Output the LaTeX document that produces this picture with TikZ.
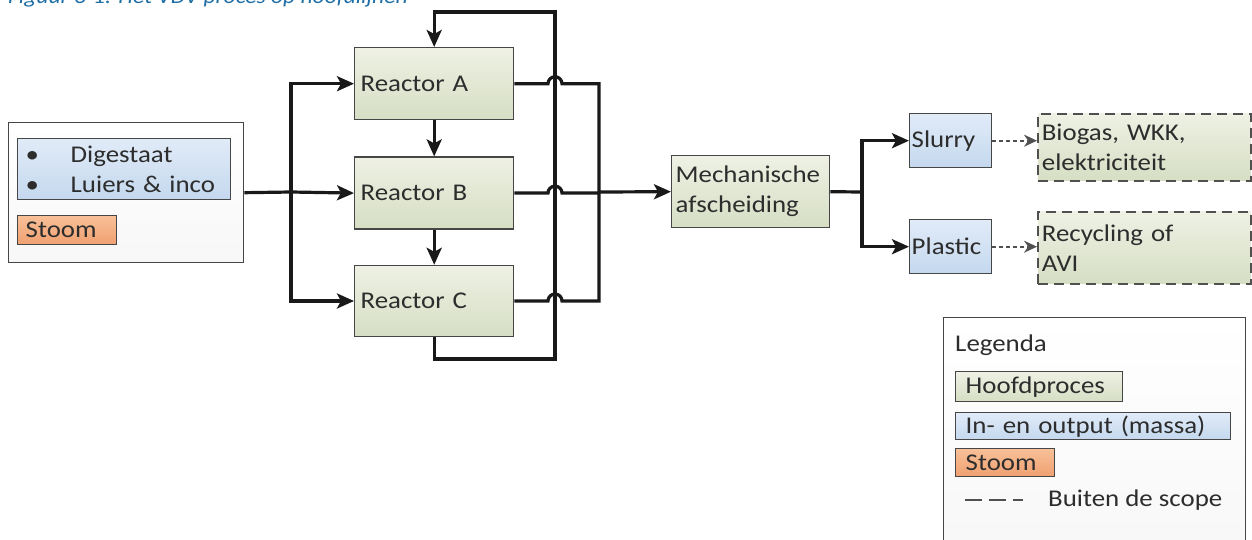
\documentclass[tikz,border=0pt]{standalone}
\usepackage{fontspec}
\setmainfont{Carlito}[FakeStretch=1.12]
\usepackage{xcolor}
\usetikzlibrary{positioning, arrows.meta}

\definecolor{groenL}{RGB}{238,241,228}
\definecolor{groenD}{RGB}{214,222,196}
\definecolor{blauwL}{RGB}{225,235,248}
\definecolor{blauwD}{RGB}{196,216,238}
\definecolor{oranjeL}{RGB}{248,192,152}
\definecolor{oranjeD}{RGB}{240,160,112}
\definecolor{rand}{RGB}{70,70,70}
\definecolor{stipgrijs}{RGB}{80,80,80}
\definecolor{tekstgrijs}{RGB}{45,45,45}
\definecolor{kopblauw}{RGB}{30,110,165}
\newcommand{\tekst}{\fontsize{24}{30}\selectfont}

\begin{document}
\begin{tikzpicture}[
    x=1pt, y=-1pt,
    tegel/.style={draw=rand, line width=1.4pt, anchor=north west, align=left, font=\tekst, text=tekstgrijs, inner ysep=0pt},
    hoofd/.style={tegel, top color=groenL, bottom color=groenD},
    massa/.style={tegel, top color=blauwL, bottom color=blauwD},
    stoom/.style={tegel, top color=oranjeL, bottom color=oranjeD},
    buiten/.style={hoofd, draw=stipgrijs, dash pattern=on 10pt off 6pt, line width=1.7pt},
    kader/.style={draw=rand, line width=1.4pt, anchor=north west, top color=white, bottom color=gray!6},
    lijn/.style={line width=3.2pt, draw=black!90},
    pijl/.style={lijn, -{Stealth[length=17pt, width=15pt, inset=4pt]}},
    stippijl/.style={line width=1.7pt, draw=stipgrijs, dash pattern=on 4pt off 3pt, -{Stealth[length=13pt, width=12pt]}},
    tekstnode/.style={anchor=west, inner sep=0pt, font=\tekst, text=tekstgrijs}
]
\path[use as bounding box] (0,0) rectangle (1252,540);
\clip (0,0) rectangle (1252,540);

% bijschrift, bovenkant valt buiten de uitsnede
\node[anchor=base west, inner sep=0pt, font=\fontsize{21}{24}\selectfont\itshape, text=kopblauw] (bijschrift) at (8,4) {Figuur 3-1: Het VDV proces op hoofdlijnen};

% invoer
\node[kader, minimum width=235pt, minimum height=140pt] (invoer) at (8,122) {};
\node[massa, text width=197pt, inner xsep=8pt, minimum height=61pt] (massain) at (17,138) {\makebox[45pt][l]{\textbullet}Digestaat\\\makebox[45pt][l]{\textbullet}Luiers \& inco};
\node[stoom, text width=83pt, inner xsep=8pt, minimum height=29pt] (stoomin) at (17,215) {Stoom};

% reactoren
\node[hoofd, text width=147pt, inner xsep=6pt, minimum height=72pt] (ra) at (354,47) {Reactor A};
\node[hoofd, text width=147pt, inner xsep=6pt, minimum height=72pt, below=36pt of ra] (rb) {Reactor B};
\node[hoofd, text width=147pt, inner xsep=6pt, minimum height=71pt, below=35pt of rb] (rc) {Reactor C};

\node[hoofd, text width=150pt, inner xsep=4pt, minimum height=72pt] (mech) at (671,155) {Mechanische\\afscheiding};

% uitvoer
\node[massa, text width=78pt, inner xsep=2pt, minimum height=54pt] (slurry) at (909,113) {Slurry};
\node[massa, text width=78pt, inner xsep=2pt, minimum height=54pt] (plastic) at (909,219) {Plastic};
\node[buiten, text width=205pt, inner xsep=4pt, minimum height=67pt] (biogas) at (1037,113) {Biogas, WKK,\\elektriciteit};
\node[buiten, text width=205pt, inner xsep=4pt, minimum height=72pt] (recycling) at (1037,211) {Recycling of\\AVI};

% verbindingen
\coordinate (splits) at (291,192);
\draw[lijn] (invoer.east) -- (splits);
\draw[pijl] (splits) |- (ra.west);
\draw[pijl] (splits) -- (rb.west);
\draw[pijl] (splits) |- (rc.west);
\draw[pijl] (ra) -- (rb);
\draw[pijl] (rb) -- (rc);

\coordinate (lusonder) at (555,359);
\coordinate (lusboven) at (555,12);
\draw[pijl] (rc.south) |- (lusonder) -- (lusboven) -| (ra.north);

\coordinate (verz) at (599,192);
\draw[lijn] (ra.east) -- ([xshift=-7pt]ra.east -| lusboven) arc[start angle=180, end angle=0, radius=7pt] -| (verz);
\draw[lijn] (rb.east) -- ([xshift=-7pt]rb.east -| lusboven) arc[start angle=180, end angle=0, radius=7pt] -- (rb.east -| verz);
\draw[lijn] (rc.east) -- ([xshift=-7pt]rc.east -| lusboven) arc[start angle=180, end angle=0, radius=7pt] -| (verz);
\draw[pijl] (verz) -- (mech.west);

\coordinate (splits2) at (862,192);
\draw[lijn] (mech.east) -- (splits2);
\draw[pijl] (splits2) |- (slurry.west);
\draw[pijl] (splits2) |- (plastic.west);
\draw[stippijl] (slurry.east) -- (slurry.east -| biogas.west);
\draw[stippijl] (plastic.east) -- (plastic.east -| recycling.west);

% legenda
\node[kader, minimum width=302pt, minimum height=240pt] (legenda) at (943,317) {};
\node[tekstnode] (legkop) at (955,345) {Legenda};
\node[hoofd, text width=147pt, inner xsep=10pt, minimum height=30pt] (leghoofd) at (955,371) {Hoofdproces};
\node[massa, text width=255pt, inner xsep=10pt, minimum height=27pt] (legmassa) at (955,412) {In- en output (massa)};
\node[stoom, text width=79pt, inner xsep=10pt, minimum height=28pt] (legstoom) at (955,448) {Stoom};
\coordinate (streepA) at (965,500);
\coordinate (streepB) at (1023,500);
\draw[line width=1.5pt, draw=stipgrijs, dash pattern=on 17pt off 7pt] (streepA) -- (streepB);
\node[tekstnode] (legbuiten) at (1048,500) {Buiten de scope};
\end{tikzpicture}
\end{document}
